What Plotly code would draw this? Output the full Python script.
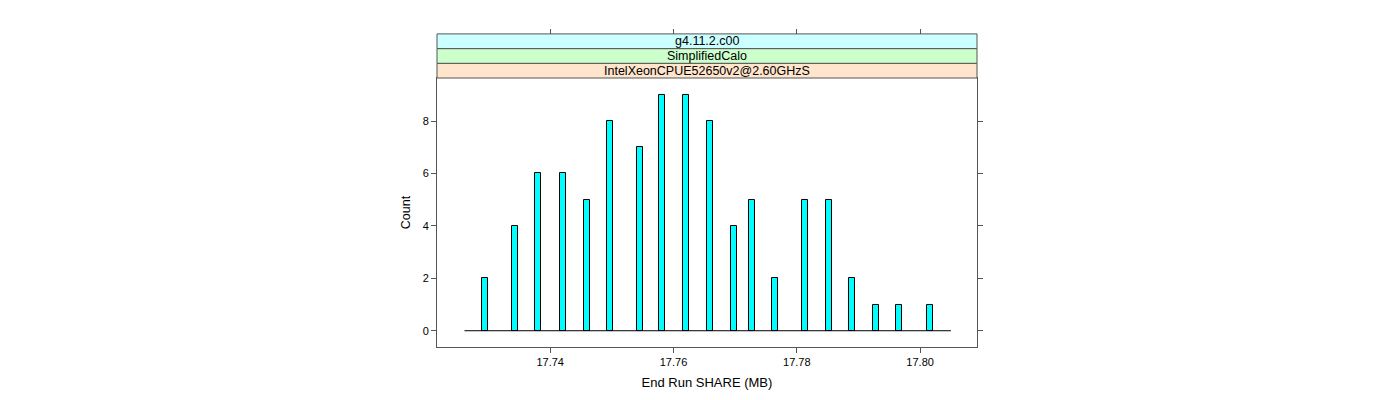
import plotly.graph_objects as go

# Data
share_mb = [17.7295, 17.7343, 17.7381, 17.7420, 17.7459, 17.7497, 17.7545, 17.7582,
            17.7621, 17.7660, 17.7698, 17.7727, 17.7765, 17.7813, 17.7852, 17.7890,
            17.7928, 17.7966, 17.8016]
counts = [2, 4, 6, 6, 5, 8, 7, 9, 9, 8, 4, 5, 2, 5, 5, 2, 1, 1, 1]
x_ticks = [17.74, 17.76, 17.78, 17.80]
x_ticklabels = ["17.74", "17.76", "17.78", "17.80"]
y_ticks = [0, 2, 4, 6, 8]
strip_labels = ["IntelXeonCPUE52650v2@2.60GHzS", "SimplifiedCalo", "g4.11.2.c00"]
strip_colors = ["#ffe5cc", "#ccffcc", "#ccffff"]

FONT = "Liberation Sans, Arial, sans-serif"
pad = 0.0034
x_range = [17.72164, 17.80923]
y_range = [-0.62, 9.64]

fig = go.Figure()
# baseline
fig.add_trace(go.Scatter(x=[min(share_mb) - pad, max(share_mb) + pad], y=[0, 0],
                         mode="lines", line=dict(color="black", width=1),
                         hoverinfo="skip", showlegend=False))
fig.add_trace(go.Bar(x=share_mb, y=counts, width=0.00097,
                     marker=dict(color="#00ffff", line=dict(color="black", width=1)),
                     showlegend=False))

W, H = 1400, 400
off = 8  # page body margin
ml, mr, mt, mb = 437 - off, 423 + off, 34 - off, 53 + off
plot_h = H - mt - mb
panel_top = (347 - 78) / plot_h
strip_h = 14.7 / plot_h

axis_col = "#555555"
fig.update_layout(
    width=W, height=H,
    margin=dict(l=ml, r=mr, t=mt, b=mb),
    plot_bgcolor="white", paper_bgcolor="white",
    bargap=0,
    font=dict(family=FONT, size=11, color="black"),
    xaxis=dict(range=x_range, tickvals=x_ticks, ticktext=x_ticklabels,
               showgrid=False, zeroline=False, showline=True, linecolor=axis_col,
               linewidth=1, mirror=True, ticks="outside", ticklen=5, tickcolor=axis_col,
               title=dict(text="End Run SHARE (MB)", font=dict(size=13), standoff=10),
               tickfont=dict(size=11)),
    xaxis2=dict(range=x_range, tickvals=x_ticks, showticklabels=False, overlaying="x",
                side="top", anchor="free", position=1, showgrid=False, zeroline=False,
                showline=False, ticks="outside", ticklen=5, tickcolor=axis_col),
    yaxis=dict(range=y_range, domain=[0, panel_top], tickvals=y_ticks,
               showgrid=False, zeroline=False, showline=True, linecolor=axis_col,
               linewidth=1, mirror="ticks", ticks="outside", ticklen=5, tickcolor=axis_col,
               title=dict(text="Count", font=dict(size=12.5), standoff=9),
               tickfont=dict(size=11)),
)
# dummy trace for xaxis2
fig.add_trace(go.Scatter(x=[x_range[0]], y=[None], xaxis="x2", mode="markers",
                         showlegend=False, hoverinfo="skip"))

for i, (lab, col) in enumerate(zip(strip_labels, strip_colors)):
    y0 = panel_top + i * strip_h
    y1 = y0 + strip_h
    fig.add_shape(type="rect", xref="paper", yref="paper", x0=0, x1=1, y0=y0, y1=y1,
                  fillcolor=col, line=dict(color=axis_col, width=1), layer="above")
    fig.add_annotation(text=lab, xref="paper", yref="paper", x=0.5, y=(y0 + y1) / 2,
                       showarrow=False, font=dict(size=12.5, color="black"),
                       xanchor="center", yanchor="middle")

fig.write_html("out.html")
